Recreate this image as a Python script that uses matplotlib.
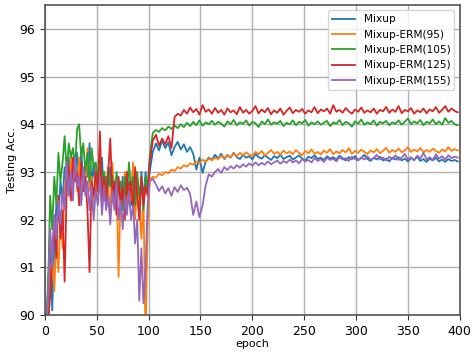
import matplotlib
matplotlib.use('Agg')
import matplotlib.pyplot as plt

# -------- Data --------
# epochs: every 2nd epoch until 100, every 3rd epoch after
epochs = list(range(1, 100, 2)) + list(range(101, 401, 3))

mixup = [89.6, 90.6, 91.8, 90.1, 91.4, 92.3, 92.0, 92.8, 92.4, 93.1,
         92.6, 93.3, 92.7, 93.2, 92.9, 93.4, 92.8, 93.5, 92.6, 93.1,
         92.9, 93.6, 92.7, 93.2, 92.5, 93.0, 92.7, 93.3, 92.4, 92.9,
         92.6, 93.1, 92.5, 92.8, 92.3, 92.7, 92.4, 92.9, 92.2, 92.6,
         92.8, 92.3, 93.1, 92.5, 92.8, 92.1, 93.0, 92.4, 93.0, 92.6,
         93.00, 93.42, 93.60, 93.45, 93.66, 93.50, 93.62, 93.35, 93.52, 93.63,
         93.47, 93.58, 93.42, 93.52, 93.38, 93.05, 93.30, 92.98, 93.22, 93.30,
         93.25, 93.36, 93.28, 93.38, 93.27, 93.35, 93.30, 93.40, 93.31, 93.27,
         93.36, 93.30, 93.33, 93.26, 93.38, 93.31, 93.28, 93.35, 93.30, 93.25,
         93.33, 93.29, 93.36, 93.27, 93.31, 93.34, 93.26, 93.30, 93.35, 93.28,
         93.24, 93.32, 93.29, 93.35, 93.27, 93.30, 93.25, 93.33, 93.28, 93.31,
         93.26, 93.34, 93.29, 93.24, 93.31, 93.27, 93.33, 93.25, 93.29, 93.36,
         93.27, 93.23, 93.30, 93.26, 93.32, 93.24, 93.28, 93.22, 93.30, 93.26,
         93.31, 93.24, 93.28, 93.22, 93.29, 93.25, 93.32, 93.23, 93.27, 93.21,
         93.28, 93.24, 93.30, 93.22, 93.26, 93.21, 93.27, 93.23, 93.25, 93.22]

erm95 = [89.5, 89.9, 90.8, 91.2, 90.5, 91.6, 90.9, 92.1, 91.4, 92.7,
         93.1, 92.5, 93.4, 92.8, 93.2, 92.6, 93.3, 92.4, 93.0, 92.7,
         93.5, 92.6, 92.9, 92.2, 93.1, 92.5, 92.8, 92.3, 93.0, 92.4,
         92.7, 92.1, 93.2, 92.5, 92.9, 90.8, 92.6, 92.3, 93.0, 92.2,
         92.7, 92.4, 93.2, 92.0, 92.8, 92.3, 91.6, 92.5, 89.5, 91.8,
         92.85, 92.90, 92.88, 92.96, 92.93, 93.00, 92.97, 93.05, 93.02, 93.10,
         93.07, 93.14, 93.11, 93.18, 93.15, 93.22, 93.18, 93.26, 93.21, 93.28,
         93.24, 93.30, 93.27, 93.34, 93.29, 93.36, 93.31, 93.38, 93.33, 93.40,
         93.35, 93.41, 93.36, 93.33, 93.42, 93.37, 93.44, 93.35, 93.40, 93.46,
         93.38, 93.42, 93.36, 93.45, 93.39, 93.43, 93.37, 93.46, 93.40, 93.35,
         93.44, 93.39, 93.47, 93.38, 93.42, 93.36, 93.45, 93.40, 93.48, 93.37,
         93.43, 93.39, 93.46, 93.41, 93.50, 93.38, 93.44, 93.40, 93.47, 93.42,
         93.38, 93.45, 93.41, 93.48, 93.39, 93.44, 93.51, 93.40, 93.46, 93.42,
         93.49, 93.41, 93.45, 93.52, 93.42, 93.47, 93.43, 93.50, 93.41, 93.46,
         93.42, 93.49, 93.44, 93.40, 93.47, 93.43, 93.52, 93.44, 93.48, 93.45]

erm105 = [89.8, 90.5, 92.5, 91.8, 92.9, 92.3, 93.4, 92.8, 93.2, 93.75,
          93.0, 93.6, 93.3, 93.5, 93.1, 93.9, 94.0, 93.3, 93.6, 93.0,
          93.4, 92.8, 93.5, 93.1, 93.2, 92.7, 93.3, 92.9, 93.0, 92.6,
          93.1, 92.7, 92.9, 92.4, 93.0, 92.6, 92.8, 92.2, 92.9, 92.5,
          93.2, 92.6, 92.9, 92.3, 93.0, 92.5, 92.8, 92.2, 92.9, 92.7,
          93.30, 93.82, 93.88, 93.84, 93.92, 93.87, 93.95, 93.90, 93.97, 93.92,
          94.00, 93.94, 94.03, 93.96, 94.05, 93.98, 94.08, 93.97, 94.04, 94.00,
          94.07, 93.99, 94.05, 94.01, 93.95, 94.06, 94.00, 94.09, 93.98, 94.04,
          94.01, 94.08, 93.97, 94.05, 94.02, 93.94, 94.06, 94.00, 94.10, 93.99,
          94.04, 94.01, 94.07, 93.96, 94.03, 94.00, 94.08, 93.98, 94.05, 94.02,
          94.09, 93.97, 94.04, 94.00, 94.06, 93.99, 94.03, 94.07, 93.96, 94.04,
          94.01, 94.09, 93.98, 94.05, 94.02, 93.95, 94.06, 94.01, 94.10, 93.99,
          94.04, 94.00, 94.08, 93.97, 94.05, 94.02, 94.07, 93.98, 94.04, 94.01,
          94.08, 93.99, 94.05, 94.12, 94.00, 94.06, 94.02, 94.09, 93.98, 94.05,
          94.02, 94.10, 94.00, 94.06, 93.99, 94.13, 94.03, 94.07, 94.00, 93.98]

erm125 = [89.4, 89.8, 90.4, 91.3, 92.0, 91.2, 92.5, 91.6, 92.2, 90.7,
          92.7, 93.1, 92.4, 93.3, 92.8, 93.0, 92.3, 93.2, 92.6, 92.9,
          92.2, 90.9, 92.8, 92.5, 93.0, 92.6, 93.85, 92.4, 92.9, 92.3,
          93.0, 93.7, 92.5, 92.8, 92.1, 92.9, 92.3, 92.7, 92.0, 93.0,
          92.4, 92.8, 92.2, 93.1, 92.5, 92.0, 92.9, 92.3, 92.7, 92.5,
          93.20, 93.65, 93.78, 93.55, 93.70, 93.58, 93.75, 93.50, 94.15, 94.22,
          94.18, 94.30, 94.22, 94.35, 94.25, 94.32, 94.20, 94.40, 94.26, 94.31,
          94.22, 94.34, 94.24, 94.30, 94.20, 94.33, 94.25, 94.29, 94.21, 94.36,
          94.24, 94.30, 94.22, 94.28, 94.38, 94.23, 94.31, 94.25, 94.34, 94.21,
          94.29, 94.24, 94.33, 94.20, 94.28, 94.35, 94.23, 94.30, 94.26, 94.32,
          94.22, 94.29, 94.25, 94.36, 94.23, 94.31, 94.27, 94.33, 94.22, 94.40,
          94.26, 94.30, 94.24, 94.34, 94.27, 94.22, 94.31, 94.26, 94.35, 94.24,
          94.29, 94.25, 94.33, 94.22, 94.30, 94.27, 94.36, 94.24, 94.31, 94.26,
          94.38, 94.23, 94.30, 94.27, 94.34, 94.22, 94.29, 94.25, 94.33, 94.23,
          94.31, 94.27, 94.36, 94.24, 94.30, 94.38, 94.26, 94.33, 94.28, 94.25]

erm155 = [89.7, 90.3, 91.8, 91.0, 92.1, 91.6, 92.4, 91.9, 92.6, 92.2,
          93.2, 92.5, 93.0, 92.4, 93.3, 92.7, 92.9, 92.3, 93.1, 92.5,
          92.8, 92.2, 92.7, 92.0, 92.6, 92.3, 92.9, 92.1, 92.7, 92.2,
          92.5, 91.9, 92.6, 92.2, 92.8, 92.0, 92.4, 91.8, 92.5, 92.1,
          92.6, 92.0, 92.3, 91.5, 92.0, 90.3, 91.4, 90.25, 91.0, 92.3,
          92.80, 92.86, 92.74, 92.60, 92.70, 92.55, 92.66, 92.50, 92.68, 92.58,
          92.72, 92.62, 92.67, 92.54, 92.10, 92.38, 92.05, 92.30, 92.72, 92.95,
          92.90, 93.00, 93.06, 92.98, 93.10, 93.04, 93.12, 93.07, 93.14, 93.09,
          93.16, 93.11, 93.18, 93.13, 93.20, 93.14, 93.19, 93.15, 93.22, 93.16,
          93.20, 93.24, 93.17, 93.23, 93.19, 93.26, 93.20, 93.24, 93.18, 93.27,
          93.22, 93.25, 93.20, 93.29, 93.23, 93.27, 93.21, 93.30, 93.25, 93.28,
          93.22, 93.31, 93.26, 93.29, 93.23, 93.32, 93.27, 93.24, 93.30, 93.26,
          93.33, 93.25, 93.29, 93.36, 93.26, 93.30, 93.24, 93.32, 93.27, 93.35,
          93.25, 93.30, 93.38, 93.26, 93.31, 93.24, 93.34, 93.28, 93.40, 93.26,
          93.31, 93.25, 93.37, 93.28, 93.33, 93.26, 93.35, 93.29, 93.32, 93.30]

labels = ['Mixup', 'Mixup-ERM(95)', 'Mixup-ERM(105)', 'Mixup-ERM(125)', 'Mixup-ERM(155)']
series = [mixup, erm95, erm105, erm125, erm155]
colors = ['#1f77b4', '#ff7f0e', '#2ca02c', '#d62728', '#9467bd']

# -------- Plot --------
fig = plt.figure(figsize=(4.73, 3.54), dpi=100)
ax = fig.add_axes([0.095, 0.11, 0.877, 0.876])

for y, lab, c in zip(series, labels, colors):
    ax.plot(epochs, y, color=c, lw=1.3, label=lab)

ax.set_xlim(0, 400)
ax.set_ylim(90, 96.5)
ax.set_yticks([90, 91, 92, 93, 94, 95, 96])
ax.set_xticks(range(0, 401, 50))
ax.tick_params(labelsize=9, color='#333333')
ax.set_xlabel('epoch', fontsize=8, labelpad=1)
ax.set_ylabel('Testing Acc.', fontsize=8, labelpad=2)
ax.grid(True, color='#b0b0b0', lw=1)
for s in ax.spines.values():
    s.set_color('#555555')
    s.set_linewidth(1.2)

ax.legend(loc='upper right', fontsize=7.6, framealpha=0.8, handlelength=2.2)

fig.savefig('out.png', dpi=100)
